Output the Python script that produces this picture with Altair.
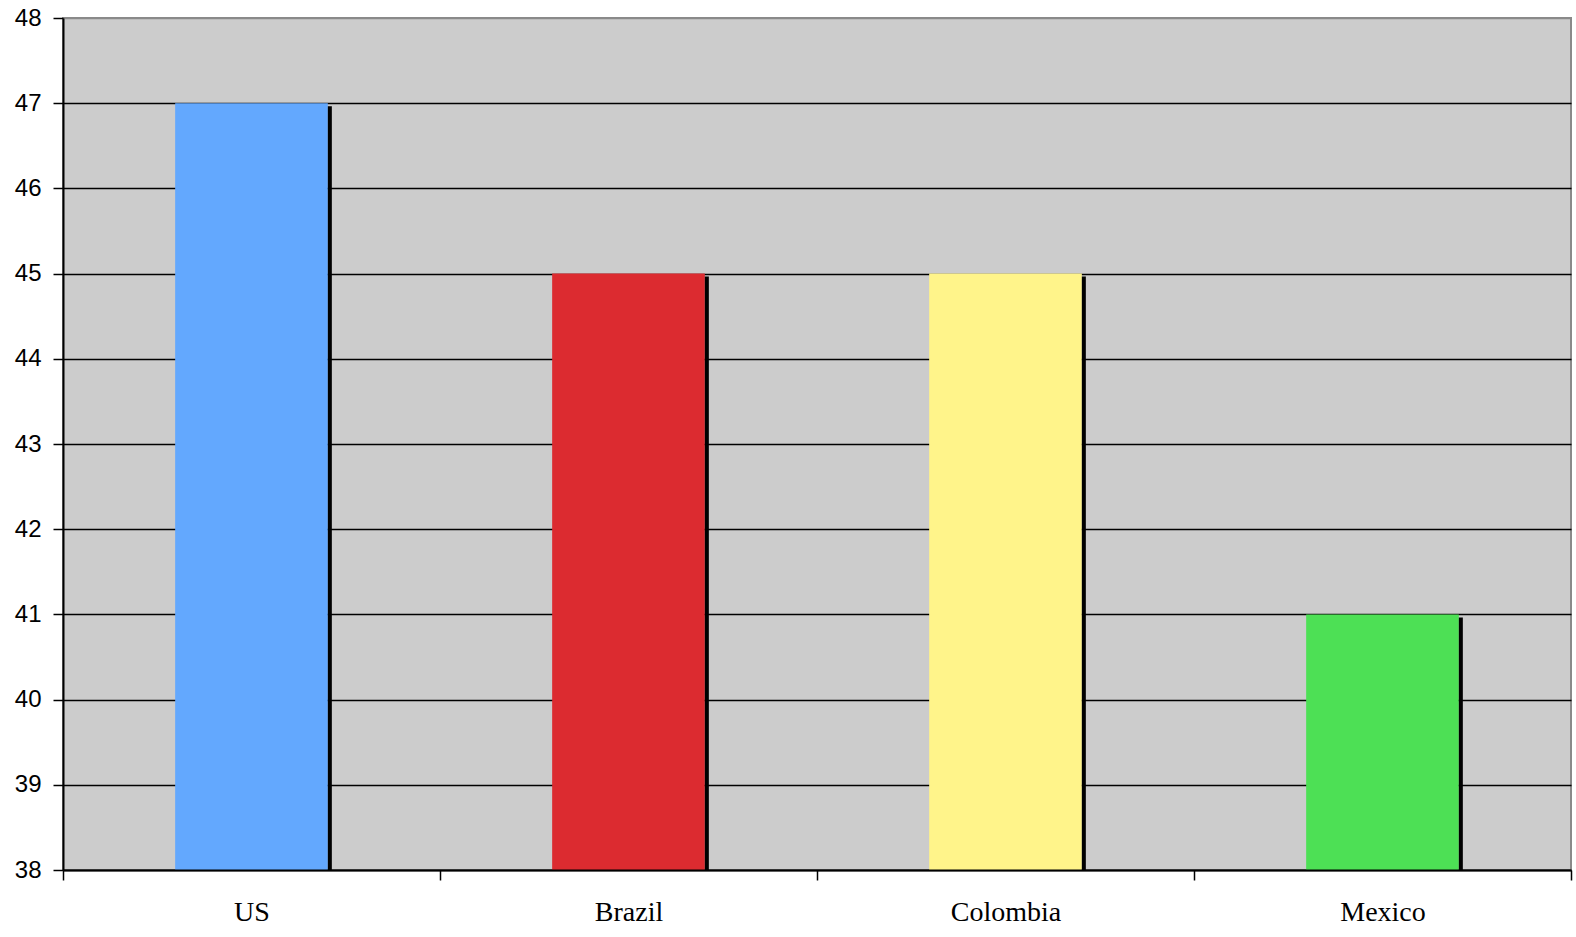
import altair as alt
import pandas as pd

countries = ["US", "Brazil", "Colombia", "Mexico"]
values = [47, 45, 45, 41]
colors = ["#63A8FE", "#DC2B30", "#FFF48A", "#4DE055"]
y_ticks = [38, 39, 40, 41, 42, 43, 44, 45, 46, 47, 48]
y_min, y_max = 38, 48

df = pd.DataFrame({"country": countries, "value": values, "color": colors})

x_scale = alt.Scale(paddingInner=0, paddingOuter=0)

x_enc = alt.X(
    "country:N",
    sort=countries,
    scale=x_scale,
    axis=alt.Axis(
        title=None,
        labelAngle=0,
        labelFont="Liberation Serif",
        labelFontSize=28,
        labelColor="#000000",
        labelPadding=18,
        tickBand="extent",
        tickSize=10,
        tickColor="#000000",
        tickWidth=1.5,
        domainColor="#000000",
        domainWidth=2,
        grid=False,
        zindex=1,
    ),
)

y_scale = alt.Scale(domain=[y_min, y_max], zero=False, nice=False)

bars = alt.Chart(df).mark_bar(stroke=None, width={"band": 0.405}).encode(
    x=x_enc,
    y=alt.Y(
        "value:Q",
        scale=y_scale,
        axis=alt.Axis(
            title=None,
            values=y_ticks,
            format="d",
            labelFont="Liberation Sans",
            labelFontSize=24,
            labelColor="#000000",
            labelPadding=12,
            tickSize=10,
            tickColor="#000000",
            tickWidth=1.5,
            domainColor="#000000",
            domainWidth=2,
            grid=True,
            gridColor={"expr": "datum.value == 48 ? '#8a8a8a' : '#000000'"},
            gridWidth=1.5,
        ),
    ),
    y2=alt.datum(y_min),
    color=alt.Color("color:N", scale=None),
)

# dark edge drawn along the right side of each bar
shadow = alt.Chart(df).mark_rule(
    color="#000000", strokeWidth=4, xOffset=2, yOffset=3
).encode(
    x=alt.X("country:N", sort=countries, scale=x_scale, bandPosition=0.7025),
    y=alt.Y("value:Q", scale=y_scale),
    y2=alt.datum(y_min),
)

chart = (
    alt.layer(bars, shadow)
    .properties(
        width=1508,
        height=852,
        padding={"left": 63, "top": 18, "right": 5, "bottom": 67},
        autosize=alt.AutoSizeParams(type="none"),
        background="#ffffff",
    )
    .configure_view(fill="#cccccc", stroke="#8a8a8a", strokeWidth=2)
)

chart.save("out.html", embed_options={"renderer": "svg", "actions": False})
